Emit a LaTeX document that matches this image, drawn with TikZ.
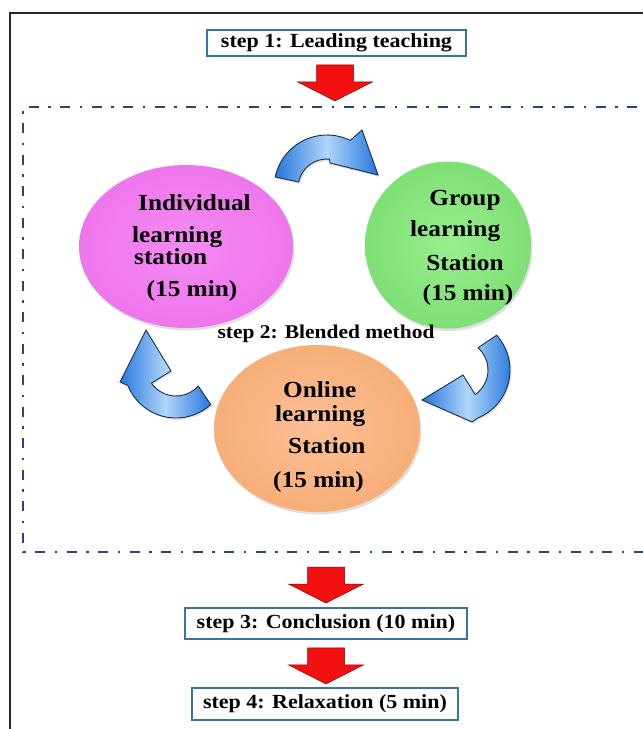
\documentclass[tikz,border=0pt]{standalone}
\usepackage{fontspec}
\setmainfont{Liberation Serif}
\usepackage{graphicx}
\usetikzlibrary{shapes.geometric,shadows,calc}

\definecolor{framebl}{RGB}{40,70,120}
\definecolor{boxline}{RGB}{49,119,160}
\definecolor{pinkin}{RGB}{245,138,243}
\definecolor{pinkout}{RGB}{238,118,236}
\definecolor{greenin}{RGB}{152,238,142}
\definecolor{greenout}{RGB}{126,224,118}
\definecolor{orin}{RGB}{252,192,150}
\definecolor{orout}{RGB}{247,174,120}
\definecolor{arrowdark}{RGB}{38,118,220}
\definecolor{arrowlight}{RGB}{176,214,250}
\definecolor{arrowedge}{RGB}{28,46,76}
\definecolor{redfill}{RGB}{242,16,16}

% slightly widened bold lettering
\newcommand\widetxt[1]{\scalebox{1.1}[1]{#1}}

\begin{document}
\begin{tikzpicture}[x=1pt,y=-1pt,
  stepbox/.style={draw=boxline, line width=1.8pt, fill=white, inner sep=0pt,
    font=\bfseries\fontsize{20}{20}\selectfont},
  station/.style={ellipse, draw=none, inner sep=0pt,
    drop shadow={shadow xshift=1.5pt, shadow yshift=-2.5pt, opacity=0.25}},
  stxt/.style={inner sep=0pt, font=\bfseries\fontsize{23}{23}\selectfont},
  curly/.style={draw=arrowedge, line width=0.9pt, left color=arrowdark,
    right color=arrowdark, middle color=arrowlight,
    drop shadow={shadow xshift=1.5pt, shadow yshift=-2pt, opacity=0.2}},
  redarrow/.pic={\filldraw[fill=redfill, draw=red!55!black, line width=0.5pt]
    (-18.5,0) -- (18.5,0) -- (18.5,17) -- (37.5,17) -- (0,36)
    -- (-37.5,17) -- (-18.5,17) -- cycle;}
]
\useasboundingbox (0,0) rectangle (643,729);
\fill[white] (0,0) rectangle (643,729);
\clip (0,0) rectangle (643,729);

% outer border
\draw[black!85, line width=1.6pt] (10,13) rectangle (680,760);

% dash-dotted frame of step 2
\draw[framebl, line width=2.6pt, dash pattern=on 10pt off 9.5pt on 2.5pt off 9.5pt]
  (700,107) -- (23,107) -- (23,552) -- (700,552);

% step boxes
\node[stepbox, minimum width=259pt, minimum height=26pt] (s1) at (336.5,43)
  {\widetxt{step 1: Leading teaching}};
\node[stepbox, minimum width=282pt, minimum height=31pt] (s3) at (326,623.5)
  {\widetxt{step 3: Conclusion (10 min)}};
\node[stepbox, minimum width=266pt, minimum height=32pt] (s4) at (325,704)
  {\widetxt{step 4: Relaxation (5 min)}};

% red block arrows between the steps
\coordinate (r1) at ($(s1.south)+(-1.5,8)$);
\coordinate (r2) at (326,567);
\coordinate (r3) at ($(s3.south)+(0,8)$);
\pic at (r1) {redarrow};
\pic at (r2) {redarrow};
\pic at (r3) {redarrow};

% the three stations
\node[station, minimum width=214pt, minimum height=163pt,
  inner color=pinkin, outer color=pinkout] (ind) at (186,246.5) {};
\node[station, minimum width=166pt, minimum height=167pt,
  inner color=greenin, outer color=greenout] (grp) at (448,245) {};
\node[station, minimum width=206pt, minimum height=167pt,
  inner color=orin, outer color=orout] (onl) at (317,428.5) {};

% station labels
\node[stxt, anchor=base] (i1) at (194.5,210) {\widetxt{Individual}};
\node[stxt, anchor=base west] (i2) at (132,242) {\widetxt{learning}};
\node[stxt, anchor=base west] (i3) at (134,264) {\widetxt{station}};
\node[stxt, anchor=base] (i4) at (192,296) {\widetxt{(15 min)}};

\node[stxt, anchor=base] (g1) at (465,205) {\widetxt{Group}};
\node[stxt, anchor=base west] (g2) at (410,236) {\widetxt{learning}};
\node[stxt, anchor=base] (g3) at (465,270) {\widetxt{Station}};
\node[stxt, anchor=base] (g4) at (468,300) {\widetxt{(15 min)}};

\node[stxt, anchor=base west] (o1) at (283,397) {\widetxt{Online}};
\node[stxt, anchor=base west] (o2) at (275,421) {\widetxt{learning}};
\node[stxt, anchor=base west] (o3) at (288,453) {\widetxt{Station}};
\node[stxt, anchor=base west] (o4) at (273,487) {\widetxt{(15 min)}};

\node[inner sep=0pt, anchor=base, font=\bfseries\fontsize{19.5}{19.5}\selectfont] (s2)
  at (326,338) {\widetxt{step 2: Blended method}};

% curved arrows: individual -> group
\begin{scope}[shift={(327,188)}]
  \draw[curly] (192:53) arc[start angle=192, end angle=296, radius=53]
    -- (35,-58) -- (51,-13) -- (3,-25)
    -- (275:29) arc[start angle=275, end angle=192, radius=29] -- cycle;
\end{scope}
% group -> online
\begin{scope}[shift={(458,370)}]
  \draw[curly] (-42:52) arc[start angle=-42, end angle=68, radius=52]
    -- (14,52) -- (-36,30) -- (5,5)
    -- (55:30) arc[start angle=55, end angle=-48, radius=30] -- cycle;
\end{scope}
% online -> individual
\begin{scope}[shift={(176,366)}, rotate=-90]
  \draw[curly] (-42:52) arc[start angle=-42, end angle=68, radius=52]
    -- (16,56) -- (-36,30) -- (5,5)
    -- (55:30) arc[start angle=55, end angle=-48, radius=30] -- cycle;
\end{scope}
\end{tikzpicture}
\end{document}
